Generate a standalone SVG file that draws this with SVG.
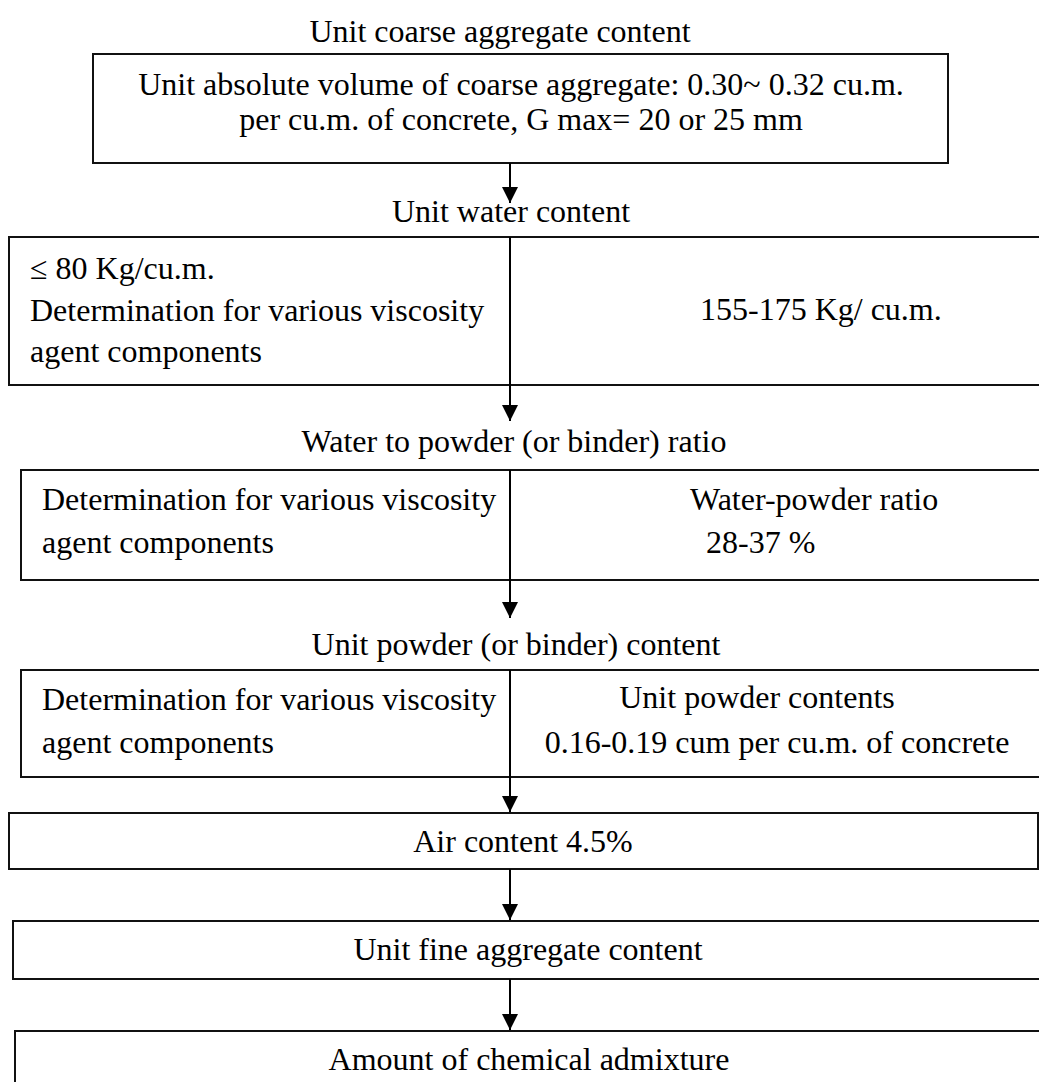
<svg xmlns="http://www.w3.org/2000/svg" width="1039" height="1082" viewBox="0 0 1039 1082">
<defs>
<style>
text{font-family:"Liberation Serif","Times New Roman",serif;font-size:32px;fill:#000}
.box{fill:#fff;stroke:#111;stroke-width:2}
.c{text-anchor:middle}
.conn{stroke:#000;stroke-width:2;fill:none}
</style>
<marker id="ah" viewBox="0 0 16 20" refX="16" refY="10" markerWidth="16" markerHeight="20" markerUnits="userSpaceOnUse" orient="auto">
<path d="M0,2 L16,10 L0,18 Z" fill="#000"/>
</marker>
</defs>
<rect width="1039" height="1082" fill="#fff"/>

<g id="title-coarse"><text class="c" x="500" y="42">Unit coarse aggregate content</text></g>
<g id="node-coarse">
<rect class="box" x="93" y="54" width="855" height="109"/>
<text class="c" x="521" y="95">Unit absolute volume of coarse aggregate: 0.30~ 0.32 cu.m.</text>
<text class="c" x="521" y="130">per cu.m. of concrete, G max= 20 or 25 mm</text>
</g>

<g id="title-water"><text class="c" x="511" y="222">Unit water content</text></g>
<g id="node-water">
<rect class="box" x="9" y="237" width="1040" height="148"/>
<text x="30" y="279">≤ 80 Kg/cu.m.</text>
<text x="30" y="321">Determination for various viscosity</text>
<text x="30" y="362">agent components</text>
<text x="700" y="320">155-175 Kg/ cu.m.</text>
</g>

<g id="title-ratio"><text class="c" x="514" y="452">Water to powder (or binder) ratio</text></g>
<g id="node-ratio">
<rect class="box" x="21" y="470" width="1030" height="110"/>
<text x="42" y="510">Determination for various viscosity</text>
<text x="42" y="553">agent components</text>
<text x="690" y="510">Water-powder ratio</text>
<text x="706" y="553">28-37 %</text>
</g>

<g id="title-powder"><text class="c" x="516" y="655">Unit powder (or binder) content</text></g>
<g id="node-powder">
<rect class="box" x="21" y="670" width="1030" height="107"/>
<text x="42" y="710">Determination for various viscosity</text>
<text x="42" y="753">agent components</text>
<text class="c" x="757" y="708">Unit powder contents</text>
<text class="c" x="777" y="753">0.16-0.19 cum per cu.m. of concrete</text>
</g>

<g id="node-air">
<rect class="box" x="9" y="813" width="1029" height="56"/>
<text class="c" x="523" y="852">Air content 4.5%</text>
</g>

<g id="node-fine">
<rect class="box" x="13" y="921" width="1040" height="58"/>
<text class="c" x="528" y="960">Unit fine aggregate content</text>
</g>

<g id="node-admixture">
<rect class="box" x="15" y="1031" width="1040" height="70"/>
<text class="c" x="529" y="1070">Amount of chemical admixture</text>
</g>

<g id="connectors">
<line class="conn" x1="510" y1="163" x2="510" y2="203" marker-end="url(#ah)"/>
<line class="conn" x1="510" y1="237" x2="510" y2="421" marker-end="url(#ah)"/>
<line class="conn" x1="510" y1="470" x2="510" y2="618" marker-end="url(#ah)"/>
<line class="conn" x1="510" y1="670" x2="510" y2="812" marker-end="url(#ah)"/>
<line class="conn" x1="510" y1="869" x2="510" y2="920" marker-end="url(#ah)"/>
<line class="conn" x1="510" y1="979" x2="510" y2="1030" marker-end="url(#ah)"/>
</g>
</svg>
